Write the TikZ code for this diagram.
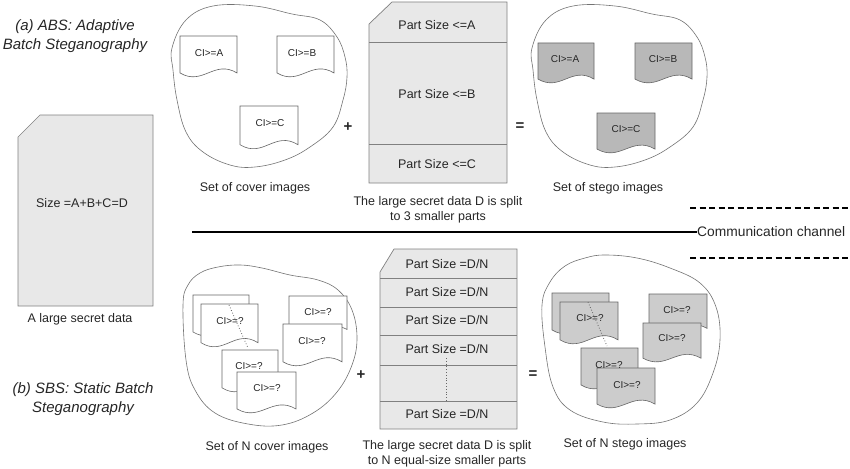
\documentclass[tikz,border=0pt]{standalone}
\usepackage{fontspec}
\setmainfont{Liberation Sans}
\newcommand\docshape[5]{%
  \begin{scope}[shift={(#2,#3)}]
    \draw[#1] (0,0) -- (#4,0) -- (#4,0.88*#5)
      .. controls (0.6*#4,0.55*#5) and (0.4*#4,1.2*#5) .. (0,0.88*#5) -- cycle;
  \end{scope}}
\begin{document}
\begin{tikzpicture}[x=1pt,y=-1pt,
  lbl/.style={font=\fontsize{12.5}{15}\selectfont, text=black!85, inner sep=0pt, align=center},
  ttl/.style={font=\fontsize{15}{18.5}\selectfont\itshape, text=black!85, inner sep=0pt, align=center},
  cil/.style={font=\fontsize{10}{12}\selectfont, text=black!85, inner sep=0pt},
  opsym/.style={font=\fontsize{15}{18}\selectfont\bfseries, text=black!85, inner sep=0pt},
  blob/.style={draw=black!55, line width=0.6pt},
  databox/.style={draw=black!50, fill=black!9, line width=0.7pt},
  divider/.style={draw=black!50, line width=0.7pt},
  docw/.style={draw=black!60, fill=white, line width=0.6pt},
  docg/.style={draw=black!60, fill=black!28, line width=0.6pt},
  docl/.style={draw=black!60, fill=black!20, line width=0.6pt},
  dotl/.style={draw=black!60, dotted, line width=0.8pt},
  chan/.style={draw=black, line width=1.8pt},
  chandash/.style={draw=black, line width=1.8pt, dash pattern=on 6pt off 3.5pt},
]
\useasboundingbox (0,0) rectangle (850,468);

% ---------- titles ----------
\node[ttl] (titleA) at (75,36) {(a) ABS: Adaptive\\Batch Steganography};
\node[ttl] (titleB) at (83,399) {(b) SBS: Static Batch\\Steganography};

% ---------- large secret data ----------
\draw[databox] (18,137) -- (40,115) -- (153,115) -- (153,306) -- (18,306) -- cycle;
\node[lbl] (sizeD) at (82,203) {Size =A+B+C=D};
\node[lbl] (bigcap) at (80,319) {A large secret data};

% ---------- top: cover images ----------
\draw[blob] plot[smooth cycle, tension=0.65] coordinates {(172,48) (186,20) (213,6) (255,6) (292,14) (320,20) (337,37) (345,57) (347,77) (343,100) (333,127) (310,147) (285,160) (255,167) (230,165) (203,152) (186,132) (177,100) (173,70)};
\docshape{docw}{180}{36}{57}{42}
\docshape{docw}{277}{36}{57}{42}
\docshape{docw}{240}{106}{58}{44}
\node[cil] (cA) at (209,53) {CI>=A};
\node[cil] (cB) at (302,53) {CI>=B};
\node[cil] (cC) at (270,123) {CI>=C};
\node[lbl] (covcap) at (255,188) {Set of cover images};
\node[opsym] (plusA) at (348,127) {+};

% ---------- top: secret data split ----------
\draw[databox] (369,24) -- (392,2) -- (507,2) -- (507,183) -- (369,183) -- cycle;
\draw[divider] (369,42) -- (507,42);
\draw[divider] (369,144) -- (507,144);
\node[lbl] (pA) at (437,25) {Part Size <=A};
\node[lbl] (pB) at (437,94) {Part Size <=B};
\node[lbl] (pC) at (437,164) {Part Size <=C};
\node[lbl] (splitA) at (438,210) {The large secret data D is split\\to 3 smaller parts};
\node[opsym] (eqA) at (520,127) {=};

% ---------- top: stego images ----------
\begin{scope}[xshift=360pt]
\draw[blob] plot[smooth cycle, tension=0.65] coordinates {(172,48) (186,20) (213,6) (255,6) (292,14) (320,20) (337,37) (345,57) (347,77) (343,100) (333,127) (310,147) (285,160) (255,167) (230,165) (203,152) (186,132) (177,100) (173,70)};
\end{scope}
\docshape{docg}{538}{43}{56}{41}
\docshape{docg}{635}{43}{57}{41}
\docshape{docg}{597}{113}{58}{41}
\node[cil] (sA) at (565,59) {CI>=A};
\node[cil] (sB) at (663,59) {CI>=B};
\node[cil] (sC) at (626,129) {CI>=C};
\node[lbl] (stegcap) at (608,188) {Set of stego images};

% ---------- communication channel ----------
\node[lbl, anchor=west, font=\fontsize{13.8}{16}\selectfont] (comm) at (697,232) {Communication channel};
\coordinate (chanL) at (192,232);
\draw[chan] (chanL) -- (comm.west);
\coordinate (dA1) at (690,208);
\coordinate (dA2) at (850,208);
\coordinate (dB1) at (690,258);
\coordinate (dB2) at (850,258);
\draw[chandash] (dA1) -- (dA2);
\draw[chandash] (dB1) -- (dB2);

% ---------- bottom: cover images ----------
\draw[blob] plot[smooth cycle, tension=0.65] coordinates {(183,305) (188,285) (200,273) (218,267) (240,265) (262,268) (290,275) (318,280) (338,290) (352,310) (357,338) (352,365) (337,392) (313,413) (282,425) (248,424) (215,413) (195,390) (186,360)};
\docshape{docw}{193}{295}{56}{42}
\docshape{docw}{201}{304}{57}{44}
\docshape{docw}{222}{350}{56}{43}
\docshape{docw}{237}{372}{59}{42}
\docshape{docw}{289}{296}{58}{38}
\docshape{docw}{283}{324}{59}{43}
\node[cil] (n1) at (230,321) {CI>=?};
\node[cil] (n2) at (249,366) {CI>=?};
\node[cil] (n3) at (267,388) {CI>=?};
\node[cil] (n4) at (318,312) {CI>=?};
\node[cil] (n5) at (312,341) {CI>=?};
\coordinate (cd1) at (229,305);
\coordinate (cd2) at (248,348);
\draw[dotl] (cd1) -- (cd2);
\node[lbl] (ncovcap) at (267,447) {Set of N cover images};
\node[opsym] (plusB) at (361,375) {+};

% ---------- bottom: secret data split ----------
\draw[databox] (380,272) -- (394,249) -- (517,249) -- (517,429) -- (380,429) -- cycle;
\foreach \yy in {278,307,335,365,401} \draw[divider] (380,\yy) -- (517,\yy);
\node[lbl] (q1) at (447,264) {Part Size =D/N};
\node[lbl] (q2) at (447,292) {Part Size =D/N};
\node[lbl] (q3) at (447,320) {Part Size =D/N};
\node[lbl] (q4) at (447,349) {Part Size =D/N};
\node[lbl] (q6) at (447,414) {Part Size =D/N};
\coordinate (qd1) at (446,358);
\coordinate (qd2) at (446,402);
\draw[dotl] (qd1) -- (qd2);
\node[lbl] (splitB) at (447,454) {The large secret data D is split\\to N equal-size smaller parts};
\node[opsym] (eqB) at (533,375) {=};

% ---------- bottom: stego images ----------
\draw[blob] plot[smooth cycle, tension=0.65] coordinates {(542,305) (550,282) (565,266) (585,258) (605,255) (637,258) (670,268) (700,283) (716,307) (720,340) (713,373) (697,403) (670,420) (637,424) (603,422) (570,410) (553,387) (545,347)};
\docshape{docl}{552}{293}{57}{42}
\docshape{docl}{560}{302}{58}{43}
\docshape{docl}{581}{348}{57}{42}
\docshape{docl}{597}{368}{58}{41}
\docshape{docl}{649}{294}{58}{39}
\docshape{docl}{643}{323}{58}{40}
\node[cil] (m1) at (590,318) {CI>=?};
\node[cil] (m2) at (609,365) {CI>=?};
\node[cil] (m3) at (627,385) {CI>=?};
\node[cil] (m4) at (677,310) {CI>=?};
\node[cil] (m5) at (672,338) {CI>=?};
\coordinate (sd1) at (588,302);
\coordinate (sd2) at (607,346);
\draw[dotl] (sd1) -- (sd2);
\node[lbl] (nstegcap) at (625,444) {Set of N stego images};
\end{tikzpicture}
\end{document}
